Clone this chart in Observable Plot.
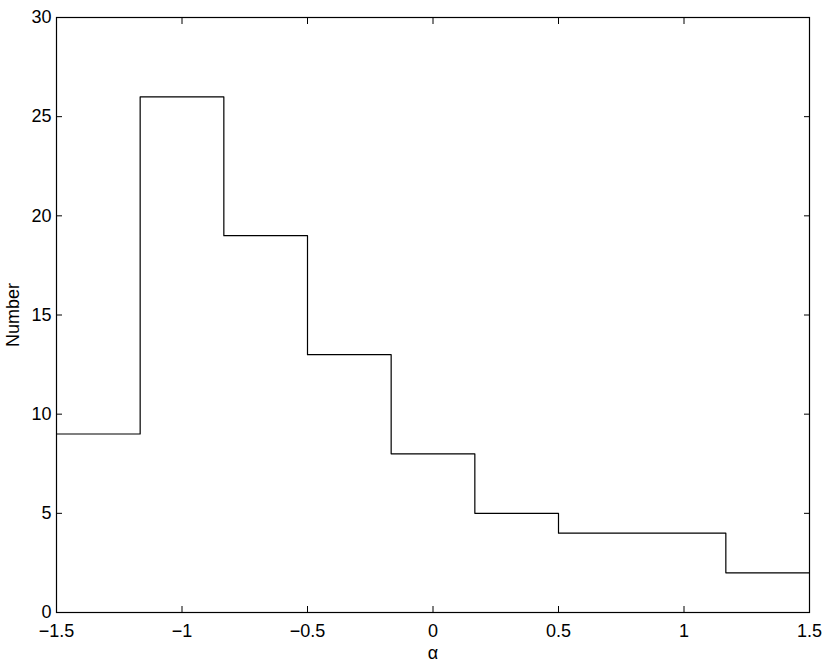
<!DOCTYPE html>
<html>
<head>
<meta charset="utf-8">
<script src="https://cdn.jsdelivr.net/npm/d3@7"></script>
<script src="https://cdn.jsdelivr.net/npm/@observablehq/plot@0.6"></script>
<style>
  html, body { margin: 0; padding: 0; background: #fff; }
  #chart { width: 830px; height: 665px; }
</style>
</head>
<body>
<div id="chart"></div>
<script>
const binEdges = [-1.5, -1.1667, -0.8333, -0.5, -0.1667, 0.1667, 0.5, 0.8333, 1.1667, 1.5];
const counts = [9, 26, 19, 13, 8, 5, 4, 4, 2];
const xTicks = [-1.5, -1, -0.5, 0, 0.5, 1, 1.5];
const yTicks = [0, 5, 10, 15, 20, 25, 30];

const stairs = binEdges.map((e, i) => ({x: e, y: counts[Math.min(i, counts.length - 1)]}));

const font = "Liberation Sans, Arial, Helvetica, sans-serif";
const fmt = d => String(d).replace("-", "\u2212");
const none = () => "";

const chart = Plot.plot({
  width: 830,
  height: 665,
  marginLeft: 56,
  marginRight: 21,
  marginTop: 17,
  marginBottom: 53,
  style: {fontFamily: font, fontSize: "18px", color: "#000", background: "#fff"},
  x: {domain: [-1.5, 1.5], label: null},
  y: {domain: [0, 30], label: null},
  marks: [
    Plot.lineY(stairs, {x: "x", y: "y", curve: "step-after", stroke: "#000", strokeWidth: 1.2}),
    Plot.axisX(xTicks, {anchor: "bottom", tickSize: -6, tickFormat: none, stroke: "#000", label: null}),
    Plot.axisX(xTicks, {anchor: "top", tickSize: -6, tickFormat: none, stroke: "#000", label: null}),
    Plot.axisY(yTicks, {anchor: "left", tickSize: -6, tickFormat: none, stroke: "#000", label: null}),
    Plot.axisY(yTicks, {anchor: "right", tickSize: -6, tickFormat: none, stroke: "#000", label: null}),
    Plot.axisX(xTicks, {anchor: "bottom", tickSize: 0, tickPadding: 12, tickFormat: fmt, fontSize: 18, fill: "#000", label: "α", labelAnchor: "center", labelOffset: 46, labelArrow: "none"}),
    Plot.axisY(yTicks, {anchor: "left", tickSize: 0, tickPadding: 5, tickFormat: fmt, fontSize: 18, fill: "#000", label: "Number", labelAnchor: "center", labelOffset: 50, labelArrow: "none"}),
    Plot.frame({stroke: "#000", strokeWidth: 1.2})
  ]
});
document.getElementById("chart").appendChild(chart);
</script>
</body>
</html>
